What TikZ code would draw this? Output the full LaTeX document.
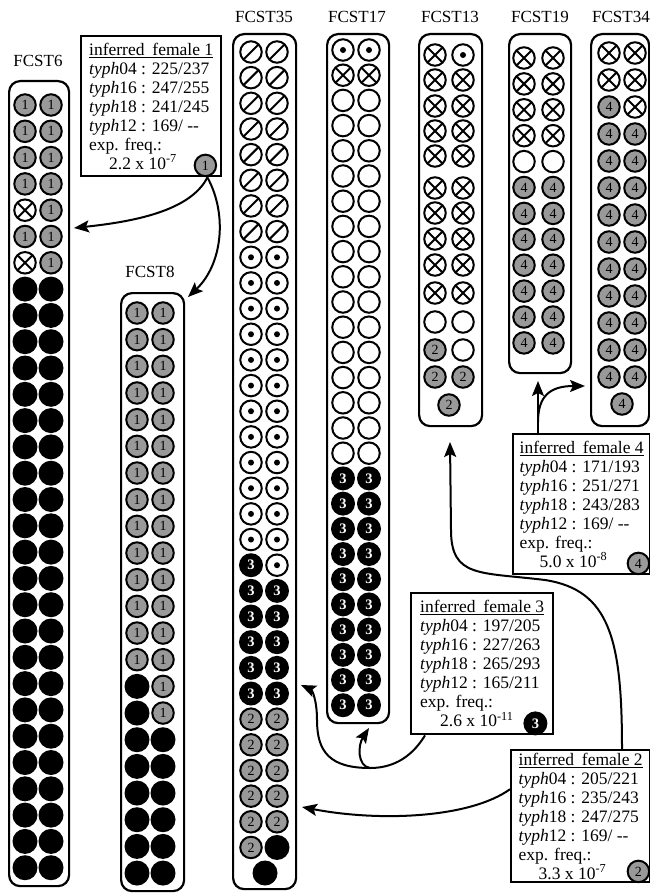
\documentclass[tikz,border=0pt]{standalone}
\usepackage{fontspec}
\setmainfont{Liberation Serif}
\usetikzlibrary{arrows.meta,calc}
\begin{document}
\begin{tikzpicture}[x=1pt,y=-1pt,
  alle/.style={circle, draw, line width=2pt, minimum size=21.5pt, inner sep=0pt},
  gc/.style={alle, fill=black!40, font=\fontsize{14}{14}\selectfont},
  g1/.style={gc, node contents={1}},
  g2/.style={gc, node contents={2}},
  g4/.style={gc, node contents={4}},
  bk/.style={circle, fill=black, minimum size=25pt, inner sep=0pt, node contents={}},
  b3/.style={circle, fill=black, minimum size=24pt, inner sep=0pt, text=white,
     font=\bfseries\fontsize{14.5}{14.5}\selectfont, node contents={3}},
  xo/.style={alle, path picture={\draw[line width=2pt]
     (path picture bounding box.north west) -- (path picture bounding box.south east)
     (path picture bounding box.north east) -- (path picture bounding box.south west);},
     node contents={}},
  sl/.style={alle, path picture={\draw[line width=2pt]
     (path picture bounding box.south west) -- (path picture bounding box.north east);},
     node contents={}},
  dt/.style={alle, path picture={\fill (path picture bounding box.center) circle (3pt);},
     node contents={}},
  op/.style={alle, node contents={}},
  colbox/.style={draw, line width=2.2pt, rounded corners=11pt, anchor=north west, inner sep=0pt},
  lab/.style={font=\fontsize{17}{17}\selectfont, inner sep=0pt},
  infobox/.style={draw, line width=2.4pt, anchor=north west, align=left, inner xsep=6pt,
     inner ysep=0pt, font=\fontsize{17.5}{19}\selectfont},
  arr/.style={line width=2pt, -{Stealth[length=15pt,width=12pt,inset=3pt]}}
]
\useasboundingbox (0,0) rectangle (649,893);

% ---------- column boxes and labels ----------
\node[colbox, minimum width=60pt, minimum height=805pt] (c6) at (8,80) {};
\node[lab] (t6) at (38,61) {FCST6};
\node[colbox, minimum width=63pt, minimum height=598pt] (c8) at (120,292) {};
\node[lab] (t8) at (150,272) {FCST8};
\node[colbox, minimum width=63pt, minimum height=855pt] (c35) at (232,33) {};
\node[lab] (t35) at (264,17) {FCST35};
\node[colbox, minimum width=62pt, minimum height=689pt] (c17) at (326,33) {};
\node[lab] (t17) at (357,17) {FCST17};
\node[colbox, minimum width=63pt, minimum height=392pt] (c13) at (418,33) {};
\node[lab] (t13) at (450,17) {FCST13};
\node[colbox, minimum width=62pt, minimum height=339pt] (c19) at (508,33) {};
\node[lab] (t19) at (540,17) {FCST19};
\node[colbox, minimum width=58pt, minimum height=392pt] (c34) at (590,33) {};
\node[lab] (t34) at (621,17) {FCST34};

% ---------- FCST6 ----------
\foreach \a/\b [count=\i from 0] in {g1/g1,g1/g1,g1/g1,g1/g1,xo/g1,g1/g1,xo/g1}{
  \pgfmathsetmacro\yy{105+26.3*\i}
  \node (s6l\i) at (25,\yy) [\a];
  \node (s6r\i) at (51,\yy) [\b];
}
\foreach \i in {7,...,29}{
  \pgfmathsetmacro\yy{105+26.3*\i}
  \node (s6l\i) at (25,\yy) [bk];
  \node (s6r\i) at (51,\yy) [bk];
}
% ---------- FCST8 ----------
\foreach \i in {0,...,21}{
  \pgfmathsetmacro\yy{313+26.67*\i}
  \ifnum\i<14 \def\a{g1}\def\b{g1}\else\ifnum\i<16 \def\a{bk}\def\b{g1}\else\def\a{bk}\def\b{bk}\fi\fi
  \node (s8l\i) at (137,\yy) [\a];
  \node (s8r\i) at (163,\yy) [\b];
}
% ---------- FCST35 ----------
\foreach \a/\b [count=\i from 0] in {sl/sl,sl/sl,sl/sl,sl/sl,sl/sl,sl/sl,sl/sl,sl/sl,
  dt/dt,dt/dt,dt/dt,dt/dt,dt/dt,dt/dt,dt/dt,dt/dt,dt/dt,dt/dt,dt/dt,dt/dt,
  b3/dt,b3/b3,b3/b3,b3/b3,b3/b3,b3/b3,g2/g2,g2/g2,g2/g2,g2/g2,g2/g2,g2/bk}{
  \pgfmathsetmacro\yy{52+25.66*\i}
  \node (s35l\i) at (251,\yy) [\a];
  \node (s35r\i) at (277,\yy) [\b];
}
\node (s35c) at (265,873) [bk];
% ---------- FCST17 ----------
\foreach \i in {0,...,26}{
  \pgfmathsetmacro\yy{50+25.2*\i}
  \ifnum\i=0 \def\a{dt}\else\ifnum\i=1 \def\a{xo}\else\ifnum\i<17 \def\a{op}\else\def\a{b3}\fi\fi\fi
  \node (s17l\i) at (343,\yy) [\a];
  \node (s17r\i) at (369,\yy) [\a];
}
% ---------- FCST13 ----------
\foreach \yy/\a/\b [count=\i] in {55/xo/dt,80/xo/xo,106/xo/xo,131/xo/xo,156/xo/xo,
  188/xo/xo,213/xo/xo,239/xo/xo,265/xo/xo,293/xo/xo,322/op/op,350/g2/op,377/g2/g2}{
  \node (s13l\i) at (435,\yy) [\a];
  \node (s13r\i) at (463,\yy) [\b];
}
\node (s13c) at (449,405) [g2];
% ---------- FCST19 ----------
\foreach \i in {0,...,11}{
  \pgfmathsetmacro\yy{58+25.9*\i}
  \ifnum\i<4 \def\a{xo}\else\ifnum\i=4 \def\a{op}\else\def\a{g4}\fi\fi
  \node (s19l\i) at (524,\yy) [\a];
  \node (s19r\i) at (553,\yy) [\a];
}
% ---------- FCST34 ----------
\foreach \a/\b [count=\i from 0] in {xo/xo,xo/xo,g4/xo,g4/g4,g4/g4,g4/g4,g4/g4,g4/g4,
  g4/g4,g4/g4,g4/g4,g4/g4,g4/g4}{
  \pgfmathsetmacro\yy{53+27*\i}
  \node (s34l\i) at (609,\yy) [\a];
  \node (s34r\i) at (635,\yy) [\b];
}
\node (s34c) at (622,404) [g4];

% ---------- inferred females ----------
\node[infobox, minimum width=140pt, minimum height=140pt] (f1) at (80,35)
 {\underline{inferred\hspace{0.45em}female 1}\\
  \textit{typh}04 : 225/237\\
  \textit{typh}16 : 247/255\\
  \textit{typh}18 : 241/245\\
  \textit{typh}12 : 169/ -{}-\\
  exp. freq.:\\
  \hspace*{20pt}2.2 x 10\textsuperscript{-7}\hspace*{24pt}};
\node (f1c) at ($(f1.south east)+(-17,-12)$) [g1];

\node[infobox, minimum width=137pt, minimum height=140pt] (f4) at (512,433)
 {\underline{inferred\hspace{0.45em}female 4}\\
  \textit{typh}04 : 171/193\\
  \textit{typh}16 : 251/271\\
  \textit{typh}18 : 243/283\\
  \textit{typh}12 : 169/ -{}-\\
  exp. freq.:\\
  \hspace*{20pt}5.0 x 10\textsuperscript{-8}\hspace*{24pt}};
\node (f4c) at ($(f4.south east)+(-13,-12)$) [g4];

\node[infobox, minimum width=142pt, minimum height=141pt] (f3) at (410,592)
 {\underline{inferred\hspace{0.45em}female 3}\\
  \textit{typh}04 : 197/205\\
  \textit{typh}16 : 227/263\\
  \textit{typh}18 : 265/293\\
  \textit{typh}12 : 165/211\\
  exp. freq.:\\
  \hspace*{20pt}2.6 x 10\textsuperscript{-11}\hspace*{24pt}};
\node (f3c) at ($(f3.south east)+(-19,-12)$) [b3];

\node[infobox, minimum width=139pt, minimum height=132pt] (f2) at (510,749)
 {\underline{inferred\hspace{0.45em}female 2}\\
  \textit{typh}04 : 205/221\\
  \textit{typh}16 : 235/243\\
  \textit{typh}18 : 247/275\\
  \textit{typh}12 : 169/ -{}-\\
  exp. freq.:\\
  \hspace*{20pt}3.3 x 10\textsuperscript{-7}\hspace*{24pt}};
\node (f2c) at ($(f2.south east)+(-13,-12)$) [g2];

% ---------- arrows ----------
\coordinate (f1o) at ($(f1.south east)+(-15,0)$);
\coordinate (e6) at (74,228);
\coordinate (e8) at (188,297);
\draw[arr] (f1o) .. controls (190,212) and (130,222) .. (e6);
\draw[arr] (f1o) .. controls (228,215) and (222,265) .. (e8);

\coordinate (f3o) at ($(f3.south west)+(15,0)$);
\coordinate (b3m) at (370,768);
\coordinate (e17) at (369,728);
\coordinate (e35a) at (301,685);
\draw[line width=2pt] (f3o) .. controls (410,760) and (390,768) .. (b3m);
\draw[arr] (b3m) .. controls (357,766) and (358,745) .. (e17);
\draw[arr] (b3m) .. controls (330,768) and (317,752) .. (317,720)
   .. controls (317,700) and (312,690) .. (e35a);

\coordinate (f2o) at ($(f2.west)+(0,-27)$);
\coordinate (e35b) at (302,807);
\draw[arr] (f2o) .. controls (470,818) and (380,822) .. (e35b);

\coordinate (f2t) at (622,749);
\coordinate (e13) at (450,442);
\draw[arr] (f2t) .. controls (622,640) and (610,590) .. (545,580)
   .. controls (480,572) and (451,578) .. (451,530) -- (e13);

\coordinate (f4t) at (538,433);
\coordinate (f4b) at (538,422);
\coordinate (e19) at (538,381);
\coordinate (e34) at (585,386);
\draw[arr] (f4t) -- (e19);
\draw[arr] (f4b) .. controls (538,396) and (550,386) .. (e34);
\end{tikzpicture}
\end{document}
